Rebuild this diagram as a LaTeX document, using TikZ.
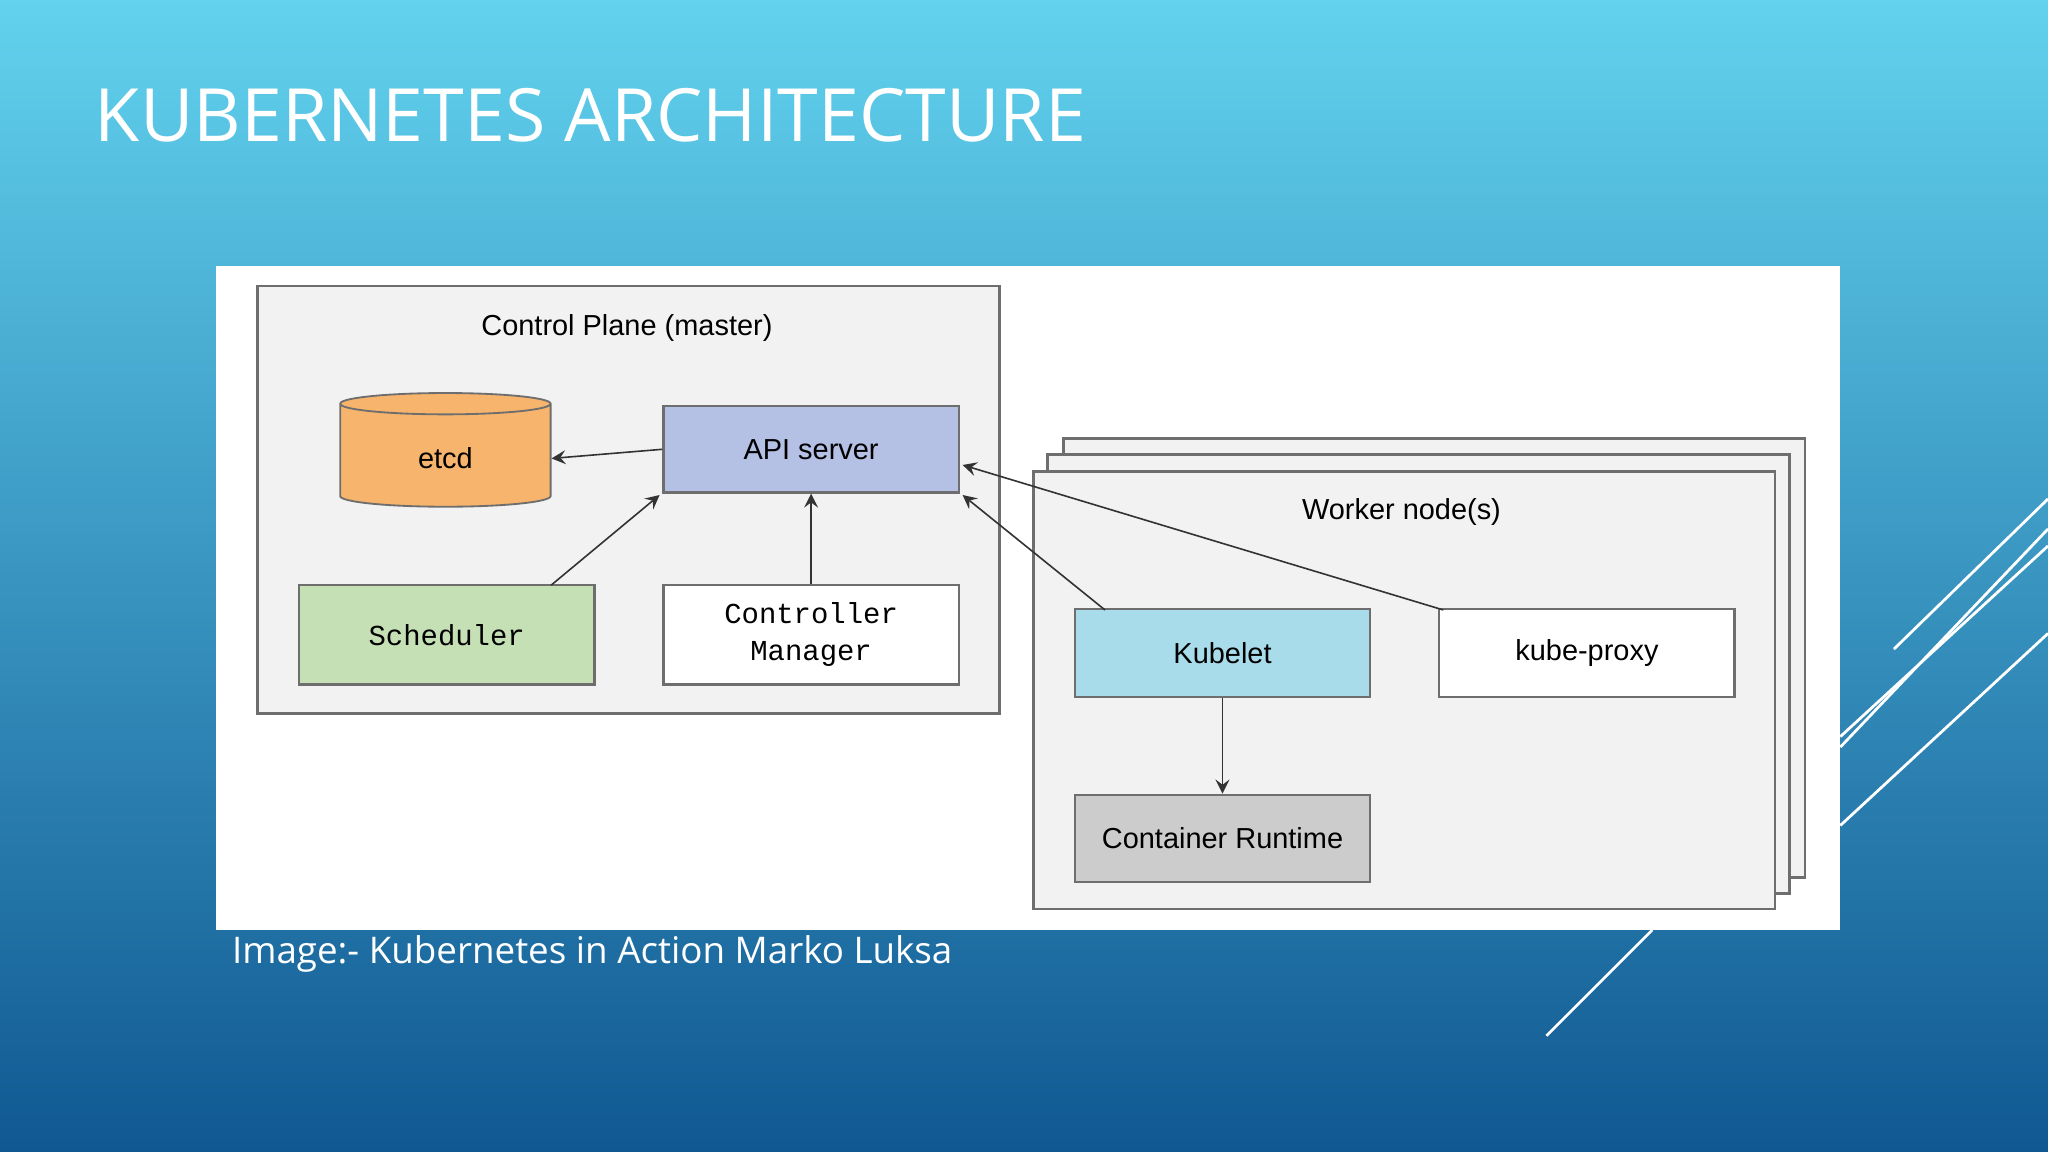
\documentclass[tikz,border=0pt]{standalone}
\usepackage{fontspec}
\setmainfont{Liberation Sans}
\newfontfamily\slidefont{Open Sans}
\newfontfamily\codefont{Liberation Mono}
\usetikzlibrary{shapes.geometric}
\definecolor{boxline}{RGB}{110,110,110}
\tikzset{
  box/.style={draw=boxline, line width=0.5pt, minimum width=2.26cm, minimum height=0.70cm, font=\fontsize{6.3}{7}\selectfont},
  conn/.style={->, >=stealth, line width=0.35pt, draw=black!80},
  deco/.style={draw=white, line width=0.6pt}
}
\begin{document}
\begin{tikzpicture}[x=0.01cm, y=-0.01cm]
  \useasboundingbox (0,0) rectangle (1568,882);
  \shade[top color={rgb,255:red,98;green,210;blue,238}, bottom color={rgb,255:red,16;green,88;blue,146}] (0,0) rectangle (1568,882);
  % decorative lines
  \draw[deco] (1409,632) -- (1568,485);
  \draw[deco] (1409,572) -- (1568,405);
  \draw[deco] (1409,564) -- (1568,418);
  \draw[deco] (1450,497) -- (1568,382);
  \draw[deco] (1184,793) -- (1265,712);
  % title
  \node[anchor=base west, text=white, font=\slidefont\fontsize{16}{18}\selectfont, inner sep=0] (title) at (72,108) {KUBERNETES ARCHITECTURE};
  % panel
  \fill[white] (165,204) rectangle (1409,712);
  % control plane
  \draw[boxline, fill=black!5, line width=0.6pt] (197,219) rectangle (765,546);
  \node[font=\fontsize{6.3}{7}\selectfont] (cptitle) at (480,251) {Control Plane (master)};
  \node[cylinder, shape border rotate=90, aspect=0.25, draw=boxline, fill={rgb,255:red,247;green,180;blue,108}, minimum width=1.61cm, minimum height=0.87cm, font=\fontsize{6.3}{7}\selectfont] (etcd) at (341,351) {etcd};
  \node[box, fill={rgb,255:red,180;green,192;blue,228}, minimum height=0.66cm] (api) at (621,344) {API server};
  \node[box, fill={rgb,255:red,197;green,224;blue,180}, minimum height=0.76cm, font=\codefont\fontsize{6.3}{7}\selectfont] (sched) at (342,486) {Scheduler};
  \node[box, fill=white, minimum height=0.76cm, align=center, font=\codefont\fontsize{6.3}{8}\selectfont] (cm) at (621,486) {Controller\\Manager};
  % worker stack
  \draw[boxline, fill=black!5, line width=0.6pt] (814,336) rectangle (1382,672);
  \draw[boxline, fill=black!5, line width=0.6pt] (802,348) rectangle (1370,684);
  \draw[boxline, fill=black!5, line width=0.6pt] (791,361) rectangle (1359,696);
  \node[font=\fontsize{6.3}{7}\selectfont] (wtitle) at (1073,392) {Worker node(s)};
  \node[box, fill={rgb,255:red,168;green,220;blue,234}, minimum height=0.67cm] (kubelet) at (936,500) {Kubelet};
  \node[box, fill=white, minimum height=0.67cm] (proxy) at (1215,500) {kube-proxy};
  \node[box, fill=black!20, minimum height=0.67cm] (runtime) at (936,642) {Container Runtime};
  % connectors
  \coordinate (schedtop) at (422,448);
  \coordinate (apisched) at (505,379);
  \coordinate (kubelettop) at (846,467);
  \coordinate (apikubelet) at (737,379);
  \coordinate (proxytop) at (1105,467);
  \coordinate (apiproxy) at (737,356);
  \draw[conn] (api.west) -- (etcd.east);
  \draw[conn] (schedtop) -- (apisched);
  \draw[conn] (cm.north) -- (api.south);
  \draw[conn] (kubelettop) -- (apikubelet);
  \draw[conn] (proxytop) -- (apiproxy);
  \draw[conn] (kubelet.south) -- (runtime.north);
  % caption
  \node[anchor=base west, text=white, font=\slidefont\fontsize{8}{10}\selectfont, inner sep=0] (caption) at (177,738) {Image:- Kubernetes in Action Marko Luksa};
\end{tikzpicture}
\end{document}
